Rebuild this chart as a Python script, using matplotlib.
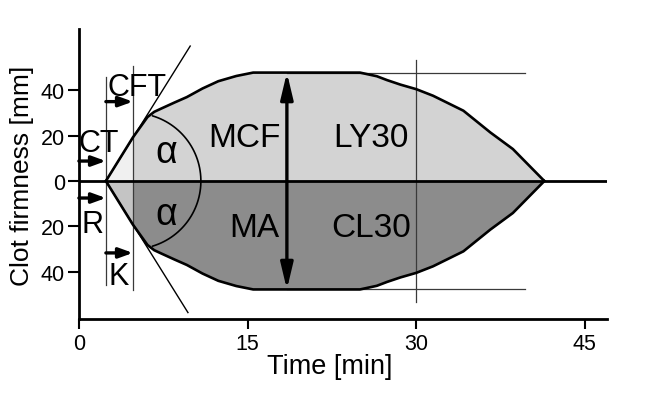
import numpy as np
import matplotlib
matplotlib.use("Agg")
import matplotlib.pyplot as plt

plt.rcParams['font.family'] = ['Liberation Sans', 'DejaVu Sans']

# clot firmness curve (upper half, lower half is the mirror)
t_curve = [2.4, 4.8, 6.1, 6.7, 7.35, 8.5, 9.6, 11.0, 12.4, 14.0, 15.5, 25.0, 26.5,
           27.4, 28.6, 30.0, 31.5, 34.2, 36.6, 38.6, 41.4]
y_curve = [0, 19.2, 28.2, 30.5, 32.0, 34.6, 37.0, 40.8, 44.0, 46.3, 47.8, 47.8, 46.2,
           44.5, 42.5, 40.5, 37.6, 31.0, 21.4, 14.1, 0]

r_time = 2.4      # R / CT
k_time = 4.8      # K / CFT end
mcf = 47.8
mcf_time = 18.5
t30 = 30
x_end = 47

yticks = [40, 20, 0, -20, -40]
yticklabels = ['40', '20', '0', '20', '40']
xticks = [0, 15, 30, 45]

t = np.array(t_curve)
y = np.array(y_curve)
split = t_curve.index(k_time)

fig = plt.figure(figsize=(6.63, 4.06), dpi=100)
ax = fig.add_axes([0.119, 0.212, 0.797, 0.714])

# fills
ax.fill_between(t[:split + 1], 0, y[:split + 1], color='#f0f0f0', lw=0)
ax.fill_between(t[split:], 0, y[split:], color='#d3d3d3', lw=0)
ax.fill_between(t[:split + 1], 0, -y[:split + 1], color='#c4c4c4', lw=0)
ax.fill_between(t[split:], 0, -y[split:], color='#8c8c8c', lw=0)

# thin guide lines
gc = '#3a3a3a'
ax.plot([r_time, r_time], [45.8, -46], color=gc, lw=0.9)
ax.plot([k_time, k_time], [50.8, -48], color=gc, lw=0.9)
ax.plot([t30, t30], [53.4, -53.3], color=gc, lw=0.9)
ax.plot([mcf_time, 39.7], [mcf, mcf], color=gc, lw=0.9)
ax.plot([mcf_time, 39.7], [-mcf, -mcf], color=gc, lw=0.9)

# tangents
ax.plot([r_time, 9.9], [0, 59.5], color='black', lw=1.0)
ax.plot([r_time, 9.7], [0, -58], color='black', lw=1.0)

# alpha arc (circle in screen space, centred on the K line)
th = np.radians(np.linspace(-73, 73, 60))
ax.plot(k_time + 6.05 * np.cos(th), 30 * np.sin(th), color='black', lw=1.2)

# outline + zero line
ax.plot(t, y, color='black', lw=1.9, solid_joinstyle='round')
ax.plot(t, -y, color='black', lw=1.9, solid_joinstyle='round')
ax.plot([0, x_end], [0, 0], color='black', lw=2.0)

# arrows
small = dict(arrowstyle='-|>,head_length=0.55,head_width=0.2',
             mutation_scale=15, lw=2.4, color='black', shrinkA=0, shrinkB=0)
ax.annotate('', xy=(r_time, 8.8), xytext=(0, 8.8), arrowprops=small)
ax.annotate('', xy=(r_time, -7.5), xytext=(0, -7.5), arrowprops=small)
ax.annotate('', xy=(k_time, 35), xytext=(r_time, 35), arrowprops=small)
ax.annotate('', xy=(k_time, -31.7), xytext=(r_time, -31.7), arrowprops=small)
ax.annotate('', xy=(mcf_time, mcf), xytext=(mcf_time, -mcf),
            arrowprops=dict(arrowstyle='<|-|>,head_length=1.05,head_width=0.25',
                            mutation_scale=15, lw=2.4, color='black',
                            shrinkA=0, shrinkB=0))

# labels
fs = 22
ax.text(5.2, 37.9, 'CFT', fontsize=fs, ha='center', va='baseline')
ax.text(1.73, 13.4, 'CT', fontsize=fs, ha='center', va='baseline')
ax.text(1.2, -22.6, 'R', fontsize=fs, ha='center', va='baseline')
ax.text(3.56, -45.4, 'K', fontsize=fs, ha='center', va='baseline')
ax.text(7.8, 8.2, 'α', fontsize=27, ha='center', va='baseline')
ax.text(7.8, -18.9, 'α', fontsize=27, ha='center', va='baseline')
ax.text(14.68, 15.3, 'MCF', fontsize=24, ha='center', va='baseline')
ax.text(25.98, 15.3, 'LY30', fontsize=24, ha='center', va='baseline')
ax.text(15.57, -24.1, 'MA', fontsize=24, ha='center', va='baseline')
ax.text(25.98, -24.1, 'CL30', fontsize=24, ha='center', va='baseline')

# axes
ax.set_xlim(0, x_end)
ax.set_ylim(-60.8, 67)
for s in ['top', 'right']:
    ax.spines[s].set_visible(False)
for s in ['left', 'bottom']:
    ax.spines[s].set_linewidth(2)
ax.set_xticks(xticks)
ax.set_yticks(yticks)
ax.set_yticklabels(yticklabels)
ax.tick_params(axis='y', length=8, width=1.5, labelsize=15.5, pad=2)
ax.tick_params(axis='x', length=7, width=1.5, labelsize=15.5, pad=3)
ax.set_xlabel('Time [min]', fontsize=19.5, va='top')
ax.xaxis.set_label_coords(0.475, -0.118)
ax.set_ylabel('Clot firmness [mm]', fontsize=19, va='center')
ax.yaxis.set_label_coords(-0.108, 0.497)

fig.savefig('out.png', dpi=100)
